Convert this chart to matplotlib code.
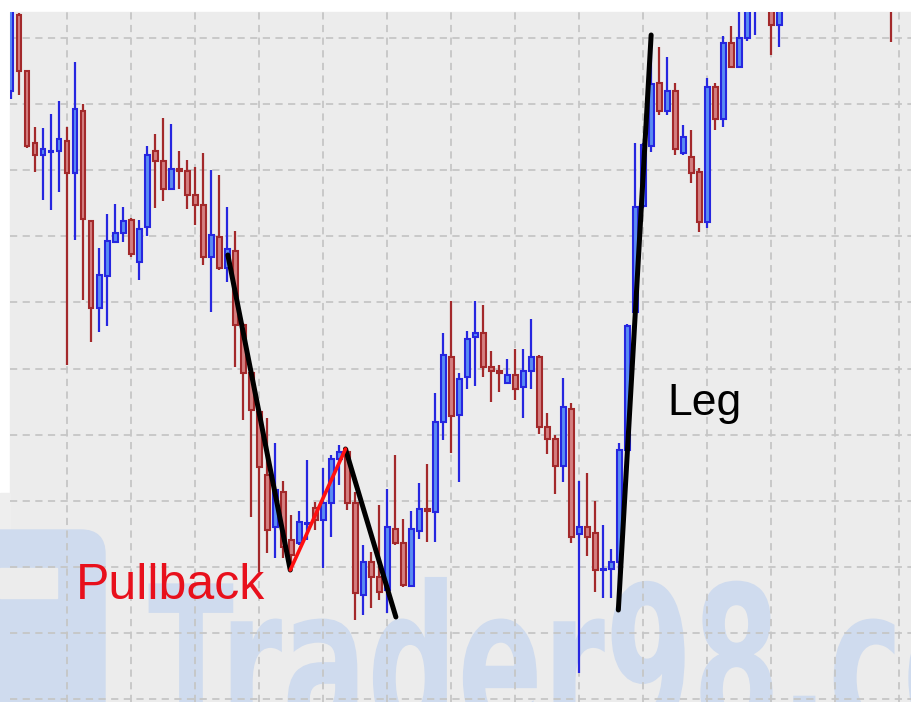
import numpy as np
import matplotlib
matplotlib.use("Agg")
import matplotlib.pyplot as plt
from matplotlib.textpath import TextPath
from matplotlib.patches import PathPatch, Rectangle, FancyBboxPatch
from matplotlib.font_manager import FontProperties
from matplotlib.transforms import Affine2D

# OHLC, one candle per bar (arbitrary price units)
opens = [909, 985, 929, 857, 845, 848, 849, 859, 827, 889, 779, 692, 724, 758, 767, 780, 738, 773, 849, 839,
         811, 831, 829, 805, 795, 743, 763, 732, 749, 675, 627, 588, 525, 473, 508, 460, 457, 476, 492, 480,
         497, 541, 548, 497, 405, 438, 423, 410, 471, 457, 414, 469, 491, 488, 578, 643, 585, 623, 663, 667,
         633, 629, 617, 625, 613, 629, 643, 573, 561, 534, 591, 466, 473, 467, 430, 431, 438, 550, 688, 794,
         854, 917, 889, 909, 847, 843, 828, 778, 913, 881, 957, 933, 962, 992, 1005, 1005, 975, 1010, 1030, 1020,
         1040, 1055, 1035, 1025, 1050, 1065, 1045, 1030, 1045, 1060, 1015]
highs = [1000, 987, 930, 873, 872, 886, 899, 873, 938, 896, 780, 752, 786, 796, 793, 782, 780, 854, 866, 882,
         876, 849, 840, 833, 847, 830, 825, 793, 769, 677, 628, 590, 582, 557, 519, 485, 489, 540, 498, 532,
         545, 555, 552, 508, 455, 448, 495, 511, 545, 481, 489, 517, 536, 607, 667, 699, 627, 669, 699, 695,
         649, 635, 641, 651, 651, 681, 645, 587, 565, 622, 597, 519, 527, 499, 475, 451, 557, 676, 857, 857,
         965, 953, 943, 917, 875, 870, 832, 922, 917, 964, 974, 1000, 1010, 1020, 1035, 1015, 1020, 1040, 1050, 1045,
         1065, 1070, 1050, 1060, 1075, 1080, 1060, 1055, 1070, 1075, 1030]
lows = [901, 905, 852, 828, 800, 790, 808, 635, 760, 700, 658, 668, 674, 757, 758, 743, 720, 764, 792, 799,
        810, 811, 791, 775, 735, 688, 730, 718, 633, 580, 483, 428, 447, 442, 442, 430, 455, 460, 470, 432,
        463, 515, 490, 380, 385, 392, 400, 387, 455, 413, 413, 461, 458, 458, 560, 547, 518, 611, 614, 623,
        598, 608, 616, 600, 582, 611, 566, 546, 506, 518, 457, 327, 444, 408, 402, 402, 390, 547, 687, 792,
        848, 885, 885, 845, 845, 817, 768, 772, 870, 873, 932, 932, 959, 965, 995, 945, 953, 995, 1015, 1005,
        1025, 1030, 1010, 1015, 1040, 1035, 1020, 1010, 1030, 1000, 958]
closes = [992, 929, 854, 845, 851, 849, 861, 827, 891, 781, 692, 725, 759, 767, 779, 746, 771, 845, 839, 811,
          831, 829, 805, 795, 743, 765, 732, 751, 675, 627, 590, 533, 470, 510, 453, 445, 478, 477, 480, 497,
          541, 548, 497, 407, 438, 423, 408, 473, 457, 415, 471, 491, 489, 578, 645, 584, 621, 661, 667, 633,
          629, 627, 625, 611, 629, 643, 573, 561, 534, 593, 463, 473, 463, 430, 431, 438, 550, 674, 793, 855,
          916, 889, 909, 851, 863, 827, 778, 913, 881, 957, 933, 962, 995, 1015, 1025, 975, 1000, 1030, 1020, 1040,
          1055, 1035, 1025, 1050, 1065, 1045, 1030, 1045, 1060, 1010, 995]

# swing lines drawn on the chart: (bar, price) pairs
leg_down_1 = [(27.1, 745), (34.9, 430)]
pullback = [(34.9, 430), (41.8, 551)]
leg_down_2 = [(41.8, 551), (48.1, 383)]
leg_up = [(75.9, 390), (80.0, 965)]

o = np.array(opens, dtype=float)
h = np.array(highs, dtype=float)
l = np.array(lows, dtype=float)
c = np.array(closes, dtype=float)
x = np.arange(len(o))
up = c >= o

blue_edge, blue_fill = "#2626e0", "#5a8cf2"
red_edge, red_fill = "#a3292b", "#d47f80"
wm_color = "#cfdbee"

W, H = 912, 702
fig = plt.figure(figsize=(W / 100, H / 100), dpi=100)
fig.patch.set_facecolor("white")

# chart background and the watermark sit below the axes
fig.add_artist(Rectangle((10 / W, 0), 902 / W, 690 / H, transform=fig.transFigure,
                         color="#ececec", zorder=-3))
fig.add_artist(Rectangle((0, 0), 10 / W, 209 / H, transform=fig.transFigure,
                         color="#eeeeee", zorder=-3))
logo = FancyBboxPatch((-60, -60), 165, 232, boxstyle="round,pad=0,rounding_size=24",
                      transform=None, color=wm_color, zorder=-2)
fig.add_artist(logo)
fig.add_artist(Rectangle((0, H - 598), 57, 30, transform=None, color="#ececec", zorder=-1.5))

tp = TextPath((0, 0), "Trader98.com", size=1,
              prop=FontProperties(family="DejaVu Sans", weight="bold"))
wm = PathPatch(tp, transform=Affine2D().scale(126, 208).translate(148, H - 735),
               color=wm_color, lw=0, zorder=-2)
fig.add_artist(wm)

ax = fig.add_axes([10 / W, 0, 902 / W, 690 / H])
ax.set_facecolor("none")

# wicks
ax.vlines(x[up], l[up], h[up], color=blue_edge, lw=1.6, zorder=2)
ax.vlines(x[~up], l[~up], h[~up], color=red_edge, lw=1.6, zorder=2)
# bodies
body_lo = np.minimum(o, c)
body_h = np.abs(c - o)
ax.bar(x[up], body_h[up], bottom=body_lo[up], width=0.62, color=blue_fill,
       edgecolor=blue_edge, linewidth=1.5, zorder=3)
ax.bar(x[~up], body_h[~up], bottom=body_lo[~up], width=0.62, color=red_fill,
       edgecolor=red_edge, linewidth=1.5, zorder=3)

for seg in [leg_down_1, leg_down_2, leg_up]:
    xs, ys = zip(*seg)
    ax.plot(xs, ys, color="black", lw=3.6, solid_capstyle="round", zorder=5)
xs, ys = zip(*pullback)
ax.plot(xs, ys, color="#ff1010", lw=2.6, solid_capstyle="round", zorder=5)

ax.set_xlim(-0.125, 112.6)
ax.set_ylim(298, 988)
ax.set_xticks(np.arange(7, 112, 8))
ax.set_yticks(962 - 66.1 * np.arange(11))
ax.grid(True, color="#c6c6c6", linestyle=(0, (4, 3)), linewidth=1.3)
ax.tick_params(length=0, labelbottom=False, labelleft=False)
for s in ax.spines.values():
    s.set_visible(False)

ax.text(667 / W, 1 - 415 / H, "Leg", transform=fig.transFigure, fontsize=32,
        family="Liberation Sans", color="black", ha="left", va="baseline")
ax.text(76 / W, 1 - 599 / H, "Pullback", transform=fig.transFigure, fontsize=36,
        family="Liberation Sans", color="#e8101c", ha="left", va="baseline")

fig.savefig("out.png", dpi=100)
